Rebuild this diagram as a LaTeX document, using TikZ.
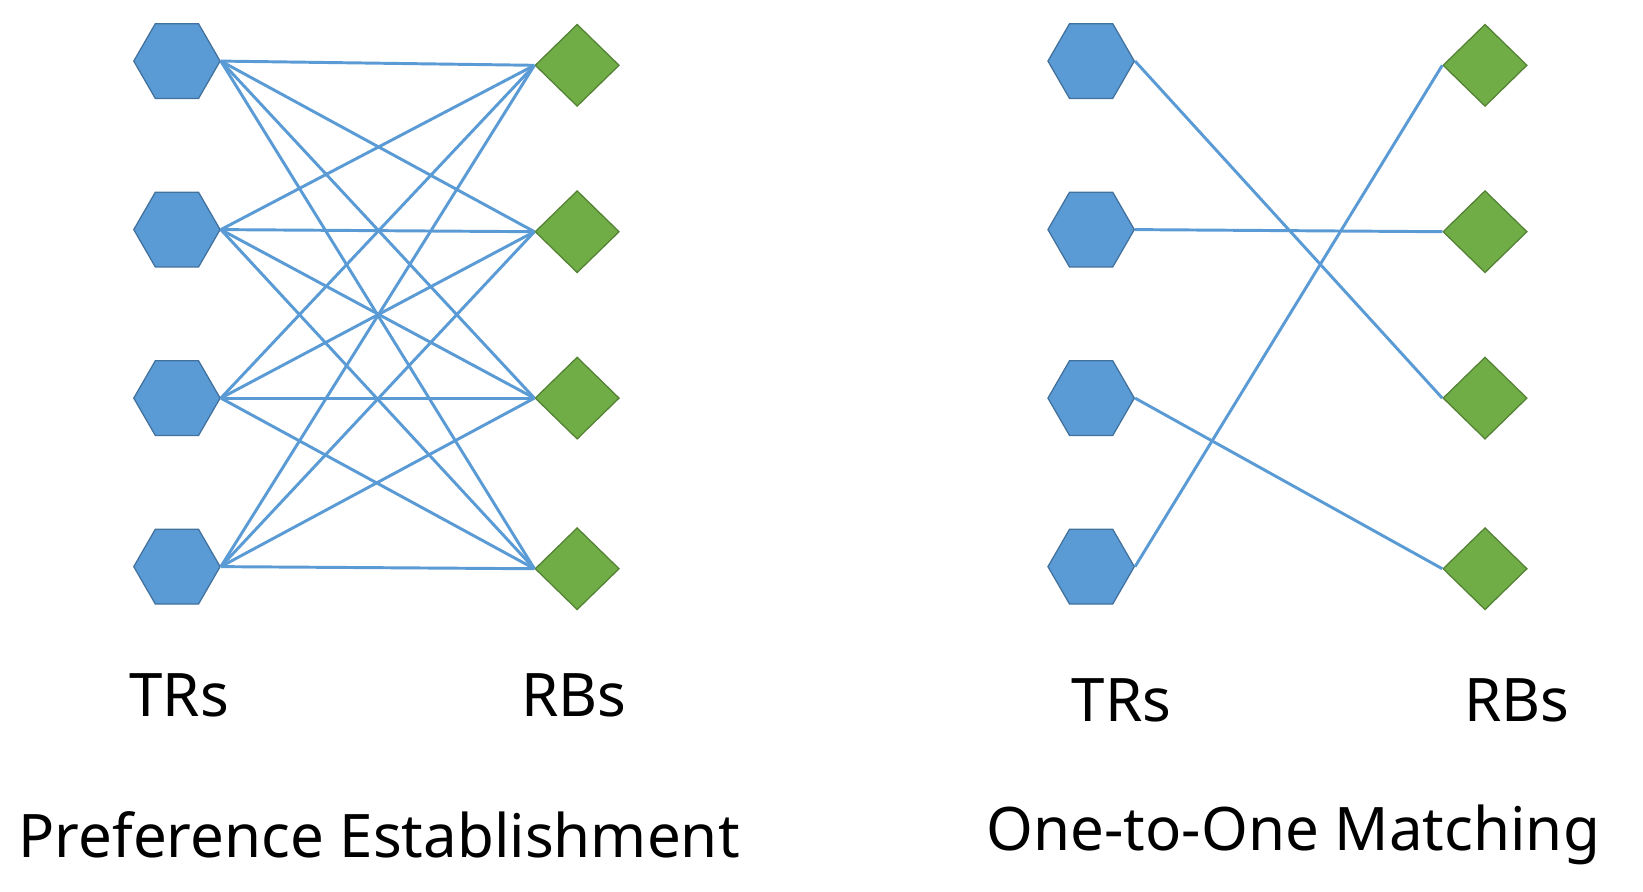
\documentclass[tikz,border=0pt]{standalone}
\usepackage{fontspec}
\setmainfont{Noto Sans}
\usetikzlibrary{shapes.geometric}
\definecolor{hexf}{RGB}{91,155,213}
\definecolor{hexd}{RGB}{65,113,156}
\definecolor{dmf}{RGB}{112,173,71}
\definecolor{dmd}{RGB}{84,130,53}
\definecolor{ln}{RGB}{91,155,213}
\begin{document}
\begin{tikzpicture}[x=1pt,y=-1pt,
 hex/.style={regular polygon,regular polygon sides=6,minimum size=82pt,inner sep=0pt,fill=hexf,draw=hexd,line width=1.2pt},
 dm/.style={diamond,minimum width=80pt,minimum height=78pt,inner sep=0pt,fill=dmf,draw=dmd,line width=1.2pt},
 edge/.style={draw=ln,line width=2.8pt},
 lab/.style={font=\fontsize{57}{60}\selectfont,inner sep=0pt},
 ttl/.style={font=\fontsize{57}{60}\selectfont,inner sep=0pt}]
\useasboundingbox (0,0) rectangle (1560,846);
\foreach \i/\y in {1/58,2/218,3/378,4/538}{
  \node[hex] (a\i) at (168,\y) {};
  \node[hex] (c\i) at (1036,\y) {};
}
\foreach \i/\y in {1/62,2/220,3/378,4/540}{
  \node[dm] (b\i) at (548,\y) {};
  \node[dm] (d\i) at (1410,\y) {};
}
\foreach \i in {1,...,4}{\foreach \j in {1,...,4}{
  \draw[edge] (a\i.east) -- (b\j.west);}}
\draw[edge] (c1.east) -- (d3.west);
\draw[edge] (c2.east) -- (d2.west);
\draw[edge] (c3.east) -- (d4.west);
\draw[edge] (c4.east) -- (d1.west);
\node[lab] (t1) at (170,660) {TRs};
\node[lab] (r1) at (545,660) {RBs};
\node[lab] (t2) at (1065,665) {TRs};
\node[lab] (r2) at (1440,665) {RBs};
\node[ttl] (p1) at (360,793) {Preference Establishment};
\node[ttl] (p2) at (1228,793) {One-to-One Matching};
\end{tikzpicture}
\end{document}
